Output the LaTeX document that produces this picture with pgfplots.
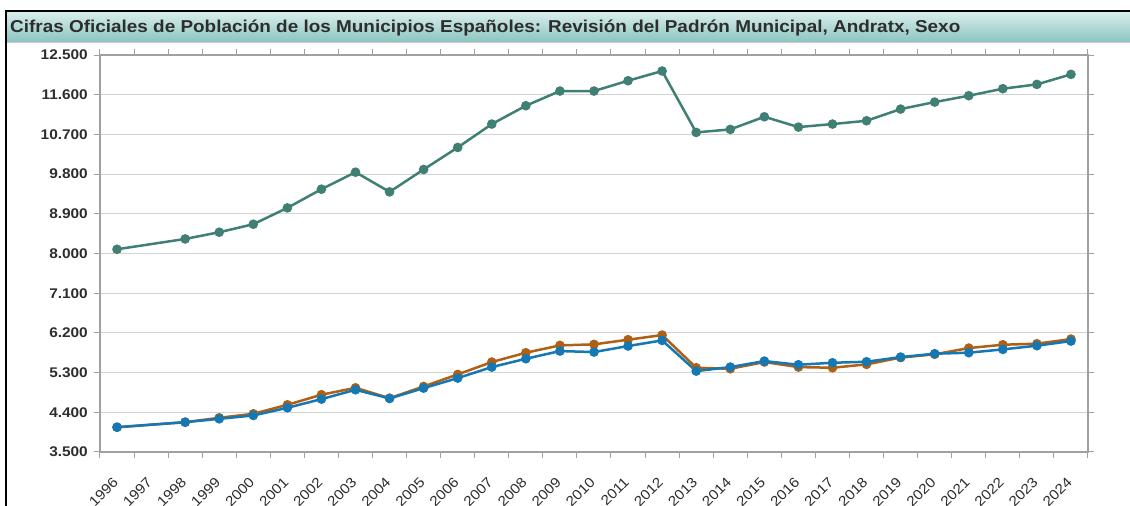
\documentclass[border=0pt]{standalone}
\usepackage{pgfplots}
\pgfplotsset{compat=1.18}
\usepackage{pgfplotstable}
\usepackage{fontspec}
\setmainfont{Liberation Sans}[FakeStretch=1.1]
\definecolor{cTot}{RGB}{63,127,116}
\definecolor{cMen}{RGB}{176,96,20}
\definecolor{cWom}{RGB}{20,120,180}
\definecolor{titTop}{RGB}{216,238,235}
\definecolor{titBot}{RGB}{140,196,192}
\definecolor{txt}{RGB}{45,45,45}
\definecolor{axgray}{RGB}{160,160,160}
\definecolor{gridgray}{RGB}{210,210,210}

\pgfplotstableread{
year tot men wom
1996 8096 4060 4063
1998 8330 4176 4176
1999 8482 4275 4252
2000 8664 4366 4328
2001 9034 4570 4502
2002 9458 4798 4699
2003 9844 4955 4910
2004 9397 4720 4714
2005 9905 4986 4948
2006 10404 5259 5175
2007 10934 5539 5425
2008 11350 5751 5614
2009 11683 5917 5788
2010 11683 5940 5766
2011 11917 6046 5902
2012 12137 6151 6030
2013 10745 5410 5334
2014 10813 5387 5425
2015 11100 5539 5561
2016 10866 5425 5478
2017 10934 5410 5523
2018 11009 5486 5546
2019 11274 5640 5652
2020 11433 5715 5728
2021 11577 5856 5751
2022 11736 5932 5826
2023 11834 5955 5910
2024 12061 6060 6015
}\datatab

\begin{document}
\begin{tikzpicture}[x=1pt,y=1pt]
\path[use as bounding box] (0,0) rectangle (1130,506);
\shade[top color=titTop, bottom color=titBot] (7,464) rectangle (1130,494);
\draw[gray!40, line width=1pt] (7,463.5) -- (1130,463.5);
\draw[black, line width=2pt] (5,495) -- (1130,495);
\draw[black, line width=2pt] (6,496) -- (6,0);
\node[anchor=base west, inner sep=0pt, text=txt, font=\bfseries\fontsize{17.2}{20}\selectfont] at (10,473) {Cifras Oficiales de Población de los Municipios Españoles: Revisión del Padrón Municipal, Andratx, Sexo};
\begin{axis}[
  at={(100pt,54pt)}, anchor=south west,
  scale only axis, width=988pt, height=397pt,
  xmin=1995.5, xmax=2024.5, ymin=3500, ymax=12500,
  scaled x ticks=false, scaled y ticks=false,
  axis line style={draw=axgray, line width=2pt},
  tick align=outside,
  tick style={draw=axgray, line width=1pt},
  major tick length=6pt, minor tick length=6pt,
  major x tick style={draw=none},
  xtick={1996,1997,...,2024},
  minor xtick={1995.5,1996.5,...,2024.5},
  xticklabels={1996,1997,1998,1999,2000,2001,2002,2003,2004,2005,2006,2007,2008,2009,2010,2011,2012,2013,2014,2015,2016,2017,2018,2019,2020,2021,2022,2023,2024},
  xticklabel style={rotate=45, anchor=north east, inner sep=0pt, xshift=-16.3pt, yshift=-9.3pt, text=txt, font=\fontsize{14}{16}\selectfont},
  ytick={3500,4400,5300,6200,7100,8000,8900,9800,10700,11600,12500},
  yticklabels={3.500,4.400,5.300,6.200,7.100,8.000,8.900,9.800,10.700,11.600,12.500},
  yticklabel style={anchor=east, inner sep=0pt, xshift=-6pt, text=txt, font=\bfseries\fontsize{14}{16}\selectfont},
  ymajorgrids, major grid style={draw=gridgray, line width=1pt},
  clip=false,
]
\addplot[cTot, line width=2.5pt, mark=*, mark size=3.5pt, mark options={fill=cTot, draw=cTot}] table[x=year,y=tot] {\datatab};
\addplot[cMen, line width=2.5pt, mark=*, mark size=3.5pt, mark options={fill=cMen, draw=cMen}] table[x=year,y=men] {\datatab};
\addplot[cWom, line width=2.5pt, mark=*, mark size=3.5pt, mark options={fill=cWom, draw=cWom}] table[x=year,y=wom] {\datatab};
\end{axis}
\end{tikzpicture}
\end{document}
